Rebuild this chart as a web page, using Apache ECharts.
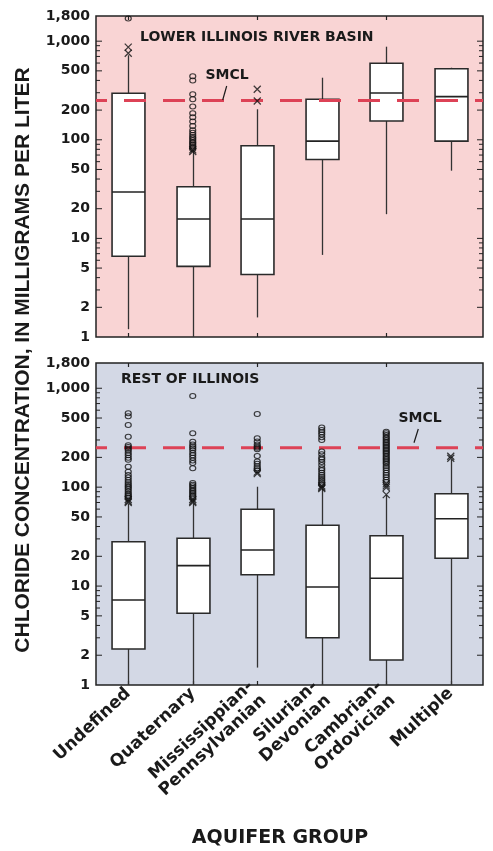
<!DOCTYPE html>
<html><head><meta charset="utf-8">
<script src="https://cdn.jsdelivr.net/npm/echarts@6/dist/echarts.min.js"></script>
<style>html,body{margin:0;padding:0;background:#fff}#c{width:493px;height:851px}</style>
</head><body><div id="c"></div>
<script>
// ---------- DATA ----------
const categories = ['Undefined', 'Quaternary', 'Mississippian-\nPennsylvanian', 'Silurian-\nDevonian', 'Cambrian-\nOrdovician', 'Multiple'];
const tickValues = [1, 2, 5, 10, 20, 50, 100, 200, 500, 1000, 1800];
const tickLabels = ['1', '2', '5', '10', '20', '50', '100', '200', '500', '1,000', '1,800'];
const minorTickValues = [3, 4, 6, 7, 8, 9, 30, 40, 60, 70, 80, 90, 300, 400, 600, 700, 800, 900];
const smcl = 250;

// box stats: [lower whisker, Q1, median, Q3, upper whisker]
const lowerBoxes = [
  [1.2, 6.6, 29.5, 296, 720],
  [1, 5.2, 15.7, 33.4, 75],
  [1.58, 4.3, 15.7, 87, 204],
  [6.8, 63, 97, 258, 426],
  [17.6, 155, 298, 597, 879],
  [48.6, 97, 274, 526, 538]
];
const restBoxes = [
  [1, 2.31, 7.23, 28.1, 68],
  [1, 5.31, 16.1, 30.4, 68],
  [1.5, 13.0, 23.2, 59.8, 101],
  [1, 3.0, 9.8, 41.2, 96],
  [1, 1.79, 12.0, 32.3, 83],
  [1, 19.1, 48, 85.9, 190]
];
// outliers per category
const lowerCircles = [
  [1700],
  [440, 400, 290, 258, 218, 186, 169, 153, 138, 125, 118, 112, 107, 103, 99, 95, 92, 89, 86, 83, 80],
  [], [], [], []
];
const lowerCrosses = [
  [870, 755],
  [79, 76],
  [325, 247],
  [], [], []
];
const restCircles = [
  [560, 520, 426, 324, 265, 255, 245, 235, 222, 210, 198, 189, 161, 143, 133, 125, 118, 112, 107, 103, 99, 95, 91, 87, 84, 81, 78],
  [836, 351, 288, 270, 258, 248, 236, 222, 210, 198, 186, 176, 155, 110, 106, 102, 98, 94, 91, 88, 85, 82, 79],
  [550, 312, 290, 270, 258, 250, 242, 207, 182, 172, 163, 155, 148],
  [400, 378, 360, 340, 320, 300, 229, 215, 200, 190, 180, 168, 155, 148, 140, 133, 127, 121, 116, 111, 106],
  [364, 350, 336, 322, 310, 298, 287, 277, 267, 258, 249, 240, 232, 224, 216, 208, 200, 193, 186, 179, 172, 164, 156, 148, 140, 133, 126, 119, 113],
  []
];
const restCrosses = [
  [75, 72, 70],
  [75, 72, 70],
  [142, 137],
  [103, 100, 97],
  [108, 103, 99, 84],
  [205, 196]
];

// ---------- CHART ----------
const BOLD = '"DejaVu Sans", sans-serif';
const INK = '#1a1a1a';
const chart = echarts.init(document.getElementById('c'), null, {renderer: 'canvas'});

function flat(lists) {
  const out = [];
  lists.forEach((l, i) => l.forEach(v => out.push([i, v])));
  return out;
}

function renderBox(params, api) {
  const i = api.value(0);
  const lo = api.coord([i, api.value(1)]);
  const q1 = api.coord([i, api.value(2)]);
  const md = api.coord([i, api.value(3)]);
  const q3 = api.coord([i, api.value(4)]);
  const hi = api.coord([i, api.value(5)]);
  const w = api.size([1, 0])[0] * 0.51;
  const x = Math.round(lo[0]) + 0.5;
  const ws = {stroke: '#333', lineWidth: 1.3};
  return {type: 'group', children: [
    {type: 'line', shape: {x1: x, y1: hi[1], x2: x, y2: q3[1]}, style: ws},
    {type: 'line', shape: {x1: x, y1: q1[1], x2: x, y2: lo[1]}, style: ws},
    {type: 'rect', shape: {x: x - w / 2, y: q3[1], width: w, height: q1[1] - q3[1]},
      style: {fill: '#fff', stroke: '#2a2a2a', lineWidth: 1.6}},
    {type: 'line', shape: {x1: x - w / 2, y1: md[1], x2: x + w / 2, y2: md[1]},
      style: {stroke: '#222', lineWidth: 1.6}}
  ]};
}

function renderTick(params, api) {
  const cs = params.coordSys;
  const v = api.value(1);
  const major = api.value(2) === 1;
  const k = api.value(3);
  const y = api.coord([0, v])[1];
  const len = major ? 6 : 4;
  const children = [];
  if (v > 1 && v < 1800) {
    children.push({type: 'line', shape: {x1: cs.x, y1: y, x2: cs.x + len, y2: y}, style: {stroke: '#222', lineWidth: 1}});
    children.push({type: 'line', shape: {x1: cs.x + cs.width - len, y1: y, x2: cs.x + cs.width, y2: y}, style: {stroke: '#222', lineWidth: 1}});
  }
  if (major) {
    children.push({type: 'text', style: {text: tickLabels[k], x: cs.x - 6, y: y,
      align: 'right', verticalAlign: 'middle', textAlign: 'right', textVerticalAlign: 'middle',
      font: 'bold 14px ' + BOLD, fill: INK}});
  }
  return {type: 'group', children};
}

function renderSmcl(params, api) {
  const cs = params.coordSys;
  const y = api.coord([0, api.value(1)])[1];
  return {type: 'line', shape: {x1: cs.x, y1: y, x2: cs.x + cs.width, y2: y},
    style: {stroke: '#dd4256', lineWidth: 3, lineDash: [22, 17], lineDashOffset: 11}};
}

const tickData = tickValues.map((v, k) => [0, v, 1, k]).concat(minorTickValues.map(v => [0, v, 0, 0]));

const grids = [
  {left: 96, top: 16, width: 387, height: 321, show: true, backgroundColor: '#f9d4d4', borderColor: '#222', borderWidth: 1.5},
  {left: 96, top: 363, width: 387, height: 322, show: true, backgroundColor: '#d3d8e5', borderColor: '#222', borderWidth: 1.5}
];

function xAx(grid, pos, labels) {
  return {
    type: 'category', gridIndex: grid, position: pos, data: categories, boundaryGap: true,
    axisLine: {show: false},
    axisTick: {show: true, inside: true, length: 4, alignWithLabel: true, lineStyle: {color: '#222', width: 1.2}},
    axisLabel: labels ? {
      show: true, rotate: 43, margin: 6, interval: 0, align: 'right', verticalAlign: 'middle',
      fontFamily: BOLD, fontWeight: 'bold', fontSize: 17, lineHeight: 19, color: INK
    } : {show: false},
    splitLine: {show: false}
  };
}
function yAx(grid) {
  return {type: 'log', logBase: 10, gridIndex: grid, min: 1, max: 1800,
    axisLine: {show: false}, axisTick: {show: false}, axisLabel: {show: false}, splitLine: {show: false}};
}

const series = [];
[[lowerBoxes, lowerCircles, lowerCrosses], [restBoxes, restCircles, restCrosses]].forEach((p, g) => {
  const xi = g * 2, yi = g;
  series.push({type: 'custom', xAxisIndex: xi, yAxisIndex: yi, renderItem: renderBox, z: 2,
    encode: {x: 0, y: [1, 2, 3, 4, 5]}, data: p[0].map((b, i) => [i].concat(b))});
  series.push({type: 'custom', xAxisIndex: xi, yAxisIndex: yi, renderItem: renderSmcl, z: 3,
    encode: {x: 0, y: 1}, data: [[0, smcl]]});
  series.push({type: 'scatter', xAxisIndex: xi, yAxisIndex: yi, z: 4, symbol: 'circle', symbolSize: [6, 5],
    itemStyle: {color: 'rgba(0,0,0,0)', borderColor: '#111', borderWidth: 1.1}, data: flat(p[1])});
  series.push({type: 'scatter', xAxisIndex: xi, yAxisIndex: yi, z: 4, symbol: 'path://M0,0L10,10M10,0L0,10',
    symbolSize: 7, itemStyle: {color: 'rgba(0,0,0,0)', borderColor: '#111', borderWidth: 1.3}, data: flat(p[2])});
  series.push({type: 'custom', xAxisIndex: xi, yAxisIndex: yi, renderItem: renderTick, z: 5,
    encode: {x: 0, y: 1}, data: tickData});
});

function T(text, x, y, size, align) {
  return {type: 'text', x: x, y: y, z: 100,
    style: {text: text, font: 'bold ' + size + 'px ' + BOLD, fill: INK, align: align, verticalAlign: 'middle'}};
}

chart.setOption({
  animation: false,
  grid: grids,
  xAxis: [xAx(0, 'bottom', false), xAx(0, 'top', false), xAx(1, 'bottom', true), xAx(1, 'top', false)],
  yAxis: [yAx(0), yAx(1)],
  series: series,
  graphic: [
    T('LOWER ILLINOIS RIVER BASIN', 140, 37, 14, 'left'),
    T('REST OF ILLINOIS', 121, 379, 14, 'left'),
    T('SMCL', 227, 75, 14, 'center'),
    T('SMCL', 420, 418, 14, 'center'),
    {type: 'line', z: 100, shape: {x1: 226.7, y1: 86, x2: 222.7, y2: 100}, style: {stroke: INK, lineWidth: 1.2}},
    {type: 'line', z: 100, shape: {x1: 418.3, y1: 429, x2: 414, y2: 442.7}, style: {stroke: INK, lineWidth: 1.2}},
    {type: 'text', x: 23, y: 360, rotation: Math.PI / 2, z: 100,
      style: {text: 'CHLORIDE CONCENTRATION, IN MILLIGRAMS PER LITER', font: 'bold 21px "Liberation Sans", Arial, sans-serif',
        fill: INK, align: 'center', verticalAlign: 'middle'}},
    {type: 'text', x: 280, y: 838, z: 100,
      style: {text: 'AQUIFER GROUP', font: 'bold 19px ' + BOLD, fill: INK, align: 'center', verticalAlign: 'middle'}}
  ]
});
</script></body></html>
